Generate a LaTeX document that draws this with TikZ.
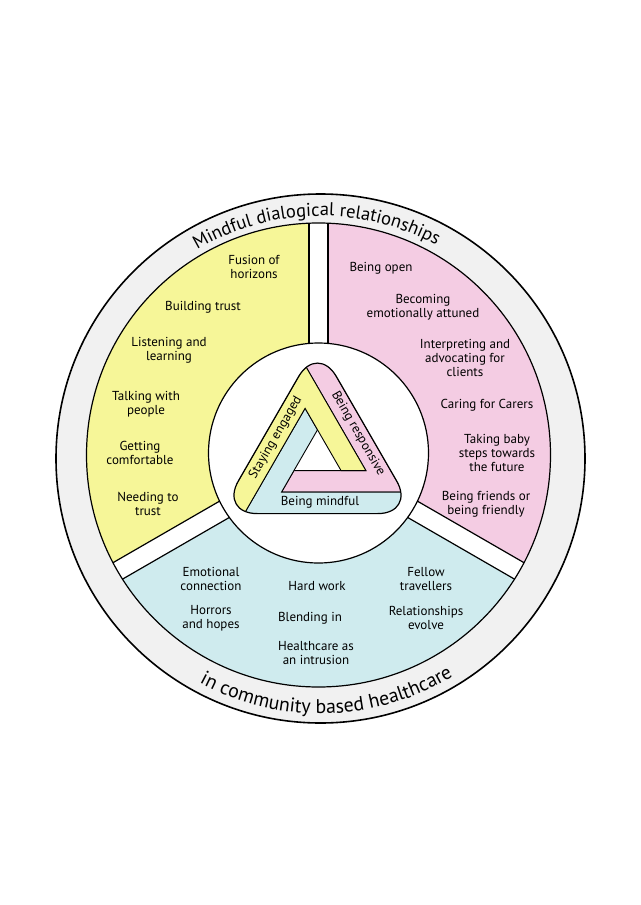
\documentclass[tikz,border=0pt]{standalone}
\usepackage{fontspec}
\setmainfont{PT Sans}
\usetikzlibrary{decorations.text}
\definecolor{cyel}{RGB}{246,246,152}
\definecolor{cpink}{RGB}{244,204,227}
\definecolor{cblue}{RGB}{207,235,238}
\definecolor{cgray}{RGB}{241,241,241}
\newcommand\arcfontA{\fontsize{18.5}{18.5}\selectfont}
\newcommand\arcfontB{\fontsize{19.8}{19.8}\selectfont}
\begin{document}
\begin{tikzpicture}[x=1pt,y=1pt,
  lbl/.style={align=center, font=\fontsize{13}{13.6}\selectfont, inner sep=0pt},
  tlbl/.style={font=\fontsize{13}{14}\selectfont, inner sep=0pt},
  thick line/.style={line width=1.2pt},
  arctext/.style 2 args={decorate, decoration={text along path, text align=center, text={|#1|#2}}}]
\useasboundingbox (0,0) rectangle (640,-905);
\fill[white] (0,0) rectangle (640,-905);
% outer ring
\coordinate (RC) at (320.5,-458.5);
\draw[line width=1.6pt, fill=cgray] (RC) circle[radius=264.5];
% coloured disk
\begin{scope}[shift={(318.5,-455)}]
  \begin{scope}
    \clip (0,0) circle[radius=232];
    \fill[cyel] (0,0) -- (90:300) arc[start angle=90,end angle=210,radius=300] -- cycle;
    \fill[cblue] (0,0) -- (210:300) arc[start angle=210,end angle=330,radius=300] -- cycle;
    \fill[cpink] (0,0) -- (330:300) arc[start angle=330,end angle=450,radius=300] -- cycle;
    \foreach \a in {90,210,330} {
      \fill[white, rotate=\a] (0,-9.5) rectangle (300,9.5);
      \draw[thick line, rotate=\a] (0,-9.5) -- (300,-9.5) (0,9.5) -- (300,9.5);
    }
  \end{scope}
  \draw[thick line] (0,0) circle[radius=232];
\end{scope}
\draw[thick line, fill=white] (318.5,-453) circle[radius=110];
% penrose triangle
\begin{scope}[shift={(317.5,-457)}]
  \begin{scope}
    \clip[rounded corners=38pt] (49.0,28.3) -- (98.03,-56.6) -- (-98.03,-56.6) -- (0,113.2) -- cycle;
    \filldraw[fill=cpink, line width=0.9pt] (-12.41,91.7) -- (0,113.2) -- (85.62,-35.1) -- (-35.97,-35.1) -- (-23.56,-13.6) -- (48.38,-13.6) -- cycle;
    \filldraw[fill=cblue, line width=0.9pt] (85.62,-35.1) -- (98.03,-56.6) -- (-73.21,-56.6) -- (-12.41,48.7) -- (0,27.2) -- (-35.97,-35.1) -- cycle;
    \filldraw[fill=cyel, line width=0.9pt] (-73.21,-56.6) -- (-98.03,-56.6) -- (-12.41,91.7) -- (48.38,-13.6) -- (23.56,-13.6) -- (-12.41,48.7) -- cycle;
  \end{scope}
  \draw[thick line, rounded corners=38pt] (49.0,28.3) -- (98.03,-56.6) -- (-98.03,-56.6) -- (0,113.2) -- cycle;
\end{scope}
\node[tlbl] (bm) at (320,-502.5) {Being mindful};
\node[tlbl, rotate=60] (se) at (275.8,-437.6) {Staying engaged};
\node[tlbl, rotate=-60] (br) at (358,-433.5) {Being responsive};
% ring texts
\path[arctext={\arcfontA}{Mindful dialogical relationships}] (RC) ++(151:242.6) arc[start angle=151, end angle=31, radius=242.6];
\path[arctext={\arcfontB}{in community based healthcare}] (RC) ++(-148.5:255) arc[start angle=-148.5, end angle=-28.5, radius=255];
% yellow
\node[lbl] (y1) at (254,-267) {Fusion of\\horizons};
\node[lbl] (y2) at (203,-307) {Building trust};
\node[lbl] (y3) at (169,-350) {Listening and\\learning};
\node[lbl] (y4) at (146,-404) {Talking with\\people};
\node[lbl] (y5) at (140,-453) {Getting\\comfortable};
\node[lbl] (y6) at (148,-504) {Needing to\\trust};
% pink
\node[lbl] (p1) at (381,-268) {Being open};
\node[lbl] (p2) at (423,-307) {Becoming\\emotionally attuned};
\node[lbl] (p3) at (465,-358) {Interpreting and\\advocating for\\clients};
\node[lbl] (p4) at (487,-405) {Caring for Carers};
\node[lbl] (p5) at (497,-453) {Taking baby\\steps towards\\the future};
\node[lbl] (p6) at (486,-504) {Being friends or\\being friendly};
% blue
\node[lbl] (b1) at (211,-579) {Emotional\\connection};
\node[lbl] (b2) at (211,-618) {Horrors\\and hopes};
\node[lbl] (b3) at (317,-586) {Hard work};
\node[lbl] (b4) at (310,-618) {Blending in};
\node[lbl] (b5) at (316,-653) {Healthcare as\\an intrusion};
\node[lbl] (b6) at (426,-579) {Fellow\\travellers};
\node[lbl] (b7) at (426,-618) {Relationships\\evolve};
\end{tikzpicture}
\end{document}
